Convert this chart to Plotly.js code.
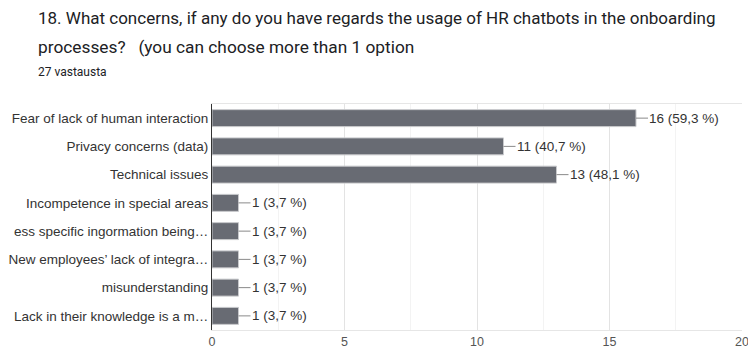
<!DOCTYPE html>
<html>
<head>
<meta charset="utf-8">
<script src="https://cdn.plot.ly/plotly-3.0.1.min.js"></script>
<style>html,body{margin:0;padding:0;background:#fff;}#chart{width:748px;height:349px;}</style>
</head>
<body>
<div id="chart"></div>
<script>
const categories = [
  "Fear of lack of human interaction",
  "Privacy concerns (data)",
  "Technical issues",
  "Incompetence in special areas",
  "ess specific ingormation being…",
  "New employees’ lack of integra…",
  "misunderstanding",
  "Lack in their knowledge is a m…"
];
const counts = [16, 11, 13, 1, 1, 1, 1, 1];
const percentLabels = ["59,3 %", "40,7 %", "48,1 %", "3,7 %", "3,7 %", "3,7 %", "3,7 %", "3,7 %"];
const xTicks = [0, 5, 10, 15, 20];
const titleLines = [
  "18. What concerns, if any do you have regards the usage of HR chatbots in the onboarding",
  "processes?\u00a0\u00a0\u00a0(you can choose more than 1 option"
];
const subtitle = "27 vastausta";

const PLOT_L = 212, PLOT_W = 530, PLOT_T = 104, PLOT_H = 226;
const LABEL_FONT = 'Liberation Sans, Arial, sans-serif';

const trace = {
  type: 'bar',
  orientation: 'h',
  y: categories,
  x: counts,
  marker: {color: '#686b73', line: {color: '#c8c9cc', width: 1}},
  width: 0.6,
  hoverinfo: 'skip'
};

const annotations = categories.map((c, i) => ({
  x: counts[i], y: c, xref: 'x', yref: 'y',
  text: counts[i] + ' (' + percentLabels[i] + ')',
  showarrow: true, arrowhead: 0, arrowwidth: 1, arrowcolor: '#8a8a8a',
  ax: 12, ay: 0, xanchor: 'left', yanchor: 'middle', borderpad: 0,
  font: {family: LABEL_FONT, size: 13.5, color: '#333'}
}));

function headerNote(text, yPix, size) {
  return {
    xref: 'paper', yref: 'paper', x: (36 - PLOT_L) / PLOT_W, y: 1 + (PLOT_T - yPix) / PLOT_H,
    xanchor: 'left', yanchor: 'middle', showarrow: false,
    text: text,
    font: {family: 'Roboto, sans-serif', size: size, color: '#202124'}
  };
}
annotations.push(headerNote(titleLines[0], 18, 17));
annotations.push(headerNote(titleLines[1], 47, 17.3));
annotations.push(headerNote(subtitle, 72, 12));

const layout = {
  width: 748, height: 349,
  margin: {l: PLOT_L, r: 748 - PLOT_L - PLOT_W, t: PLOT_T, b: 349 - PLOT_T - PLOT_H},
  paper_bgcolor: '#fff', plot_bgcolor: '#fff',
  showlegend: false,
  xaxis: {
    range: [0, 20], tickvals: xTicks, ticktext: xTicks.map(String),
    showgrid: true, gridcolor: '#e3e3e3', gridwidth: 1,
    minor: {dtick: 2.5, showgrid: true, gridcolor: '#f3f3f3'},
    showline: true, mirror: true, linecolor: '#e6e6e6', linewidth: 1,
    zeroline: false, ticks: '', ticklabeloverflow: 'allow',
    tickfont: {family: LABEL_FONT, size: 12.5, color: '#555'}
  },
  yaxis: {
    autorange: 'reversed', showline: true, linecolor: '#333', linewidth: 1,
    ticks: '', ticklabelstandoff: 0,
    tickfont: {family: LABEL_FONT, size: 13.5, color: '#333'}
  },
  annotations: annotations
};

Plotly.newPlot('chart', [trace], layout, {staticPlot: true, displayModeBar: false});
</script>
</body>
</html>
